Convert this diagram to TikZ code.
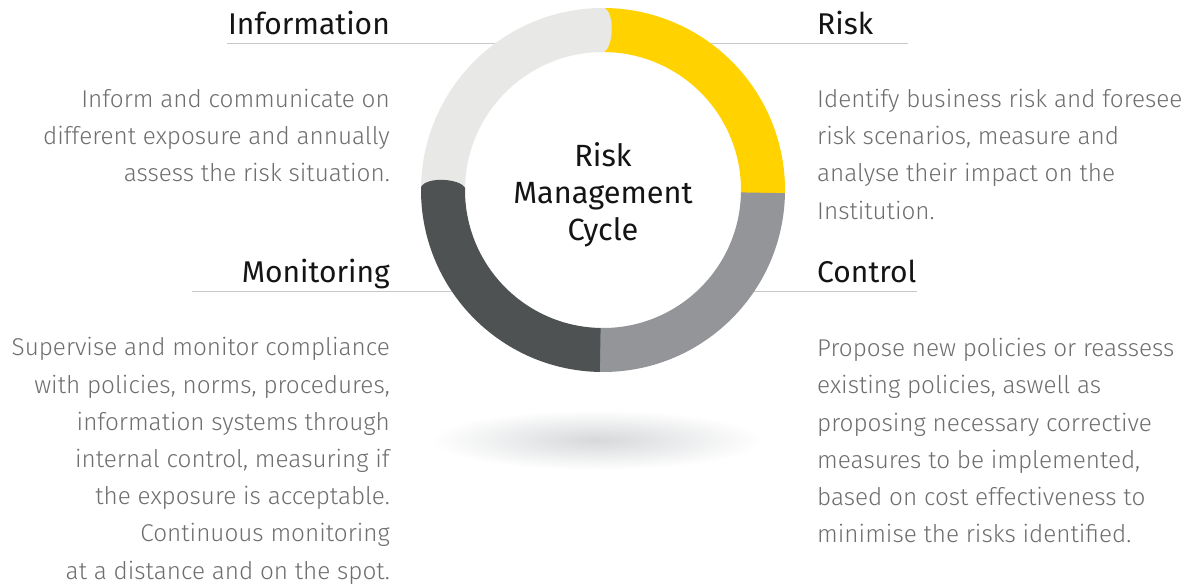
\documentclass[tikz,border=0pt]{standalone}
\usepackage{fontspec}
\setmainfont{Fira Sans}
\newfontfamily\lightfont{Fira Sans Light}
\usetikzlibrary{calc}
\definecolor{ringyellow}{HTML}{FFD200}
\definecolor{ringlight}{HTML}{E8E8E6}
\definecolor{ringmid}{HTML}{939598}
\definecolor{ringdark}{HTML}{4F5253}
\definecolor{bodygrey}{HTML}{6D6E70}
\definecolor{rulegrey}{HTML}{C8C8C8}
\definecolor{headblack}{HTML}{141414}
\definecolor{shadowgrey}{HTML}{D6D8DA}
\tikzset{
  heading/.style={inner sep=0pt, text=headblack, font=\fontsize{30}{36}\selectfont},
  bodytext/.style={inner sep=0pt, text=bodygrey, font=\lightfont\fontsize{24.3}{37.2}\selectfont},
  rulel/.style={draw=rulegrey, line width=1.3pt},
}
% ring segment with a rounded end that overlaps the next segment
\newcommand{\ringseg}[3]{% colour, start angle, end angle (clockwise)
  \pgfmathsetmacro{\capang}{#3-3.5}
  \fill[#1] ($(C)+(#2:182pt)$) arc[start angle=#2, end angle=#3, radius=182pt]
    .. controls ($(C)+(\capang:176pt)$) and ($(C)+(\capang:144pt)$) .. ($(C)+(#3:138pt)$)
    arc[start angle=#3, end angle=#2, radius=138pt] -- cycle;
}
\begin{document}
\begin{tikzpicture}[x=1pt,y=1pt]
\useasboundingbox (0,0) rectangle (1194,-588);
\fill[white] (0,0) rectangle (1194,-588);
% shadow
\shade[inner color=shadowgrey, outer color=white] (597,-440) ellipse [x radius=166pt, y radius=30pt];
\coordinate (C) at (603,-190);
% rules
\coordinate (r1a) at (227,-43.5);
\coordinate (r2b) at (908,-43.5);
\coordinate (r3a) at (192,-291.8);
\coordinate (r4b) at (917,-291.8);
\draw[rulel] (r1a) -- (C |- r1a);
\draw[rulel] (C |- r2b) -- (r2b);
\draw[rulel] (r3a) -- (C |- r3a);
\draw[rulel] (C |- r4b) -- (r4b);
% white interior
\fill[white] (C) circle[radius=150pt];
% ring
\ringseg{ringlight}{179}{89.5}
\ringseg{ringyellow}{89.5}{-1}
\ringseg{ringmid}{-1}{-91}
\ringseg{ringdark}{-91}{-181}
\ringseg{ringlight}{93}{89.5}
% centre text (anchor = baseline of last line)
\node[heading, align=center, anchor=base, font=\fontsize{30.7}{37}\selectfont] (centre) at (603,-240.7) {Risk\\Management\\Cycle};
% headings
\node[heading, anchor=base east] (info) at (390,-34.5) {Information};
\node[heading, anchor=base west] (risk) at (817,-34.5) {Risk};
\node[heading, anchor=base east] (moni) at (390,-282.3) {Monitoring};
\node[heading, anchor=base west] (ctrl) at (817,-282.3) {Control};
% body texts (anchor = baseline of last line)
\node[bodytext, align=right, anchor=base east] (infotext) at (390,-181.7) {Inform and communicate on\\different exposure and annually\\assess the risk situation.};
\node[bodytext, align=left, anchor=base west] (risktext) at (817,-219) {Identify business risk and foresee\\risk scenarios, measure and\\analyse their impact on the\\Institution.};
\node[bodytext, align=right, anchor=base east] (monitext) at (390,-579) {Supervise and monitor compliance\\with policies, norms, procedures,\\information systems through\\internal control, measuring if\\the exposure is acceptable.\\Continuous monitoring\\at a distance and on the spot.};
\node[bodytext, align=left, anchor=base west] (ctrltext) at (817,-542.7) {Propose new policies or reassess\\existing policies, aswell as\\proposing necessary corrective\\measures to be implemented,\\based on cost effectiveness to\\minimise the risks identified.};
\end{tikzpicture}
\end{document}
